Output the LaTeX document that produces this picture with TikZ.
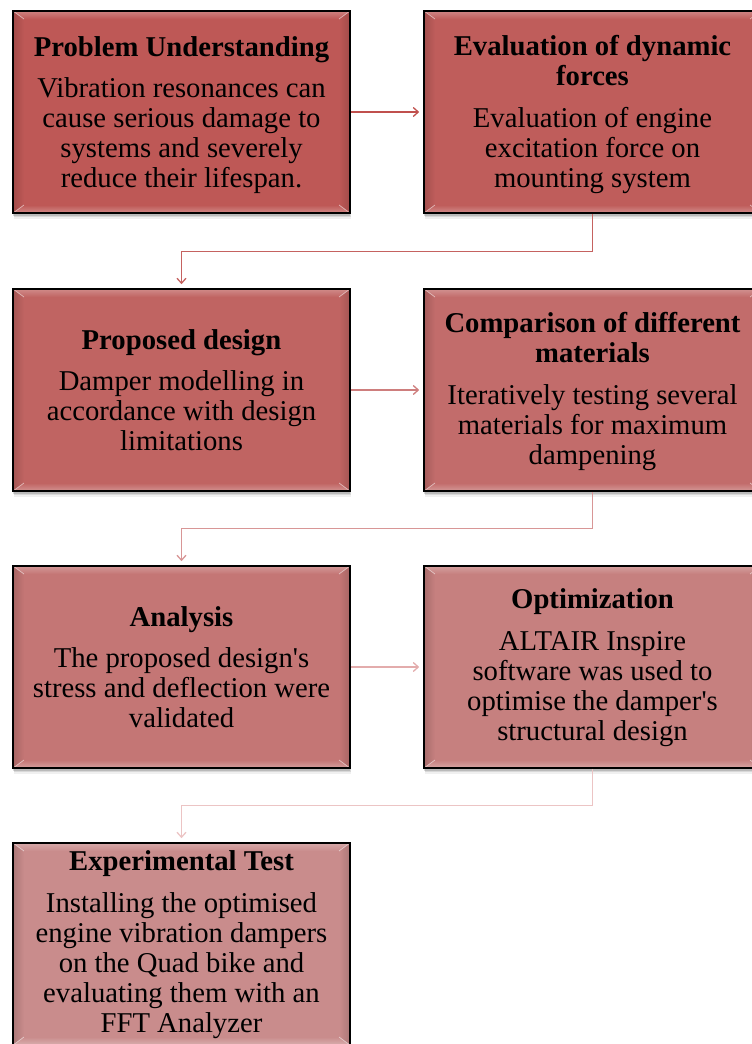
\documentclass[tikz,border=0pt]{standalone}
\usepackage{fontspec}
\newfontfamily\boxfont{Liberation Serif}
\usetikzlibrary{arrows.meta,calc,shadows}

% fills of the seven stages, fading from the first to the last
\definecolor{fillA}{RGB}{190,88,86}
\definecolor{fillB}{RGB}{191,93,91}
\definecolor{fillC}{RGB}{192,100,98}
\definecolor{fillD}{RGB}{194,108,107}
\definecolor{fillE}{RGB}{196,118,117}
\definecolor{fillF}{RGB}{198,128,127}
\definecolor{fillG}{RGB}{201,140,140}
% connector colours
\definecolor{lineA}{RGB}{192,80,77}
\definecolor{lineB}{RGB}{197,98,96}
\definecolor{lineC}{RGB}{206,126,125}
\definecolor{lineD}{RGB}{216,150,150}
\definecolor{lineE}{RGB}{227,172,172}
\definecolor{lineF}{RGB}{236,196,196}

% invisible strut that lowers a text block inside its box
\newcommand\lowerby[1]{\rule{0pt}{\dimexpr 19.5pt+2\dimexpr #1\relax\relax}}

\tikzset{
  stagebox/.style={
    draw=black, line width=1.6pt, fill=#1,
    minimum width=337pt, minimum height=202pt, inner sep=0pt,
    align=center, text=black,
    font=\boxfont\fontsize{28.7}{30}\selectfont,
    general shadow={shadow yshift=-6pt, shadow xshift=1pt, opacity=.06, fill=black},
    general shadow={shadow yshift=-4pt, shadow xshift=.5pt, opacity=.10, fill=black},
    general shadow={shadow yshift=-2.5pt, opacity=.14, fill=black},
    path picture={
      \path (path picture bounding box.north west) coordinate (@nw)
            (path picture bounding box.north east) coordinate (@ne)
            (path picture bounding box.south east) coordinate (@se)
            (path picture bounding box.south west) coordinate (@sw);
      \path ($(@nw)+(11pt,-8pt)$) coordinate (@inw)
            ($(@ne)+(-11pt,-8pt)$) coordinate (@ine)
            ($(@se)+(-11pt,8pt)$) coordinate (@ise)
            ($(@sw)+(11pt,8pt)$) coordinate (@isw);
      % bevel frame: top, bottom, left, right faces
      \shade[top color=#1!75!white, bottom color=#1]
        (@nw) -- (@ne) -- (@ine) -- (@inw) -- cycle;
      \shade[top color=#1, bottom color=#1!70!white]
        (@sw) -- (@se) -- (@ise) -- (@isw) -- cycle;
      \shade[left color=#1!85!black, middle color=#1!30!white, right color=#1]
        (@nw) -- (@inw) -- (@isw) -- (@sw) -- cycle;
      \shade[left color=#1, middle color=#1!30!white, right color=#1!85!black]
        (@ne) -- (@ine) -- (@ise) -- (@se) -- cycle;
      \draw[white, opacity=.55, line width=.7pt]
        (@nw) -- (@inw) (@ne) -- (@ine) (@se) -- (@ise) (@sw) -- (@isw);
    }
  },
  conn/.style={line width=1.3pt, shorten >=4pt,
    -{Straight Barb[length=5pt,width=9pt,line width=1.3pt]}},
}

\begin{document}
\begin{tikzpicture}[x=1pt, y=-1pt]
  \useasboundingbox (0,0) rectangle (752,1044);

  % stages
  \node[stagebox=fillA] (p1) at (181.5,112)
    {\lowerby{3.5pt}\textbf{Problem Understanding}\\[11.5pt]
     Vibration resonances can\\ cause serious damage to\\
     systems and severely\\ reduce their lifespan.};
  \node[stagebox=fillB] (p2) at (592.5,112)
    {\lowerby{3pt}\textbf{Evaluation of dynamic}\\ \textbf{forces}\\[11.5pt]
     Evaluation of engine\\ excitation force on\\ mounting system};
  \node[stagebox=fillC] (p3) at (181.5,390)
    {\textbf{Proposed design}\\[11.5pt]
     Damper modelling in\\ accordance with design\\ limitations};
  \node[stagebox=fillD] (p4) at (592.5,390)
    {\lowerby{2pt}\textbf{Comparison of different}\\ \textbf{materials}\\[11.5pt]
     Iteratively testing several\\ materials for maximum\\ dampening};
  \node[stagebox=fillE] (p5) at (181.5,667)
    {\textbf{Analysis}\\[11.5pt]
     The proposed design's\\ stress and deflection were\\ validated};
  \node[stagebox=fillF] (p6) at (592.5,667)
    {\lowerby{1pt}\textbf{Optimization}\\[11.5pt]
     ALTAIR Inspire\\ software was used to\\
     optimise the damper's\\ structural design};
  \node[stagebox=fillG] (p7) at (181.5,944)
    {\lowerby{1pt}\textbf{Experimental Test}\\[11.5pt]
     Installing the optimised\\ engine vibration dampers\\
     on the Quad bike and\\ evaluating them with an\\ FFT Analyzer};

  % connectors
  \draw[conn, lineA] (p1.east) -- (p2.west);
  \draw[conn, lineB] (p2.south) -- ++(0,38) -| (p3.north);
  \draw[conn, lineC] (p3.east) -- (p4.west);
  \draw[conn, lineD] (p4.south) -- ++(0,37) -| (p5.north);
  \draw[conn, lineE] (p5.east) -- (p6.west);
  \draw[conn, lineF] (p6.south) -- ++(0,37) -| (p7.north);
\end{tikzpicture}
\end{document}
